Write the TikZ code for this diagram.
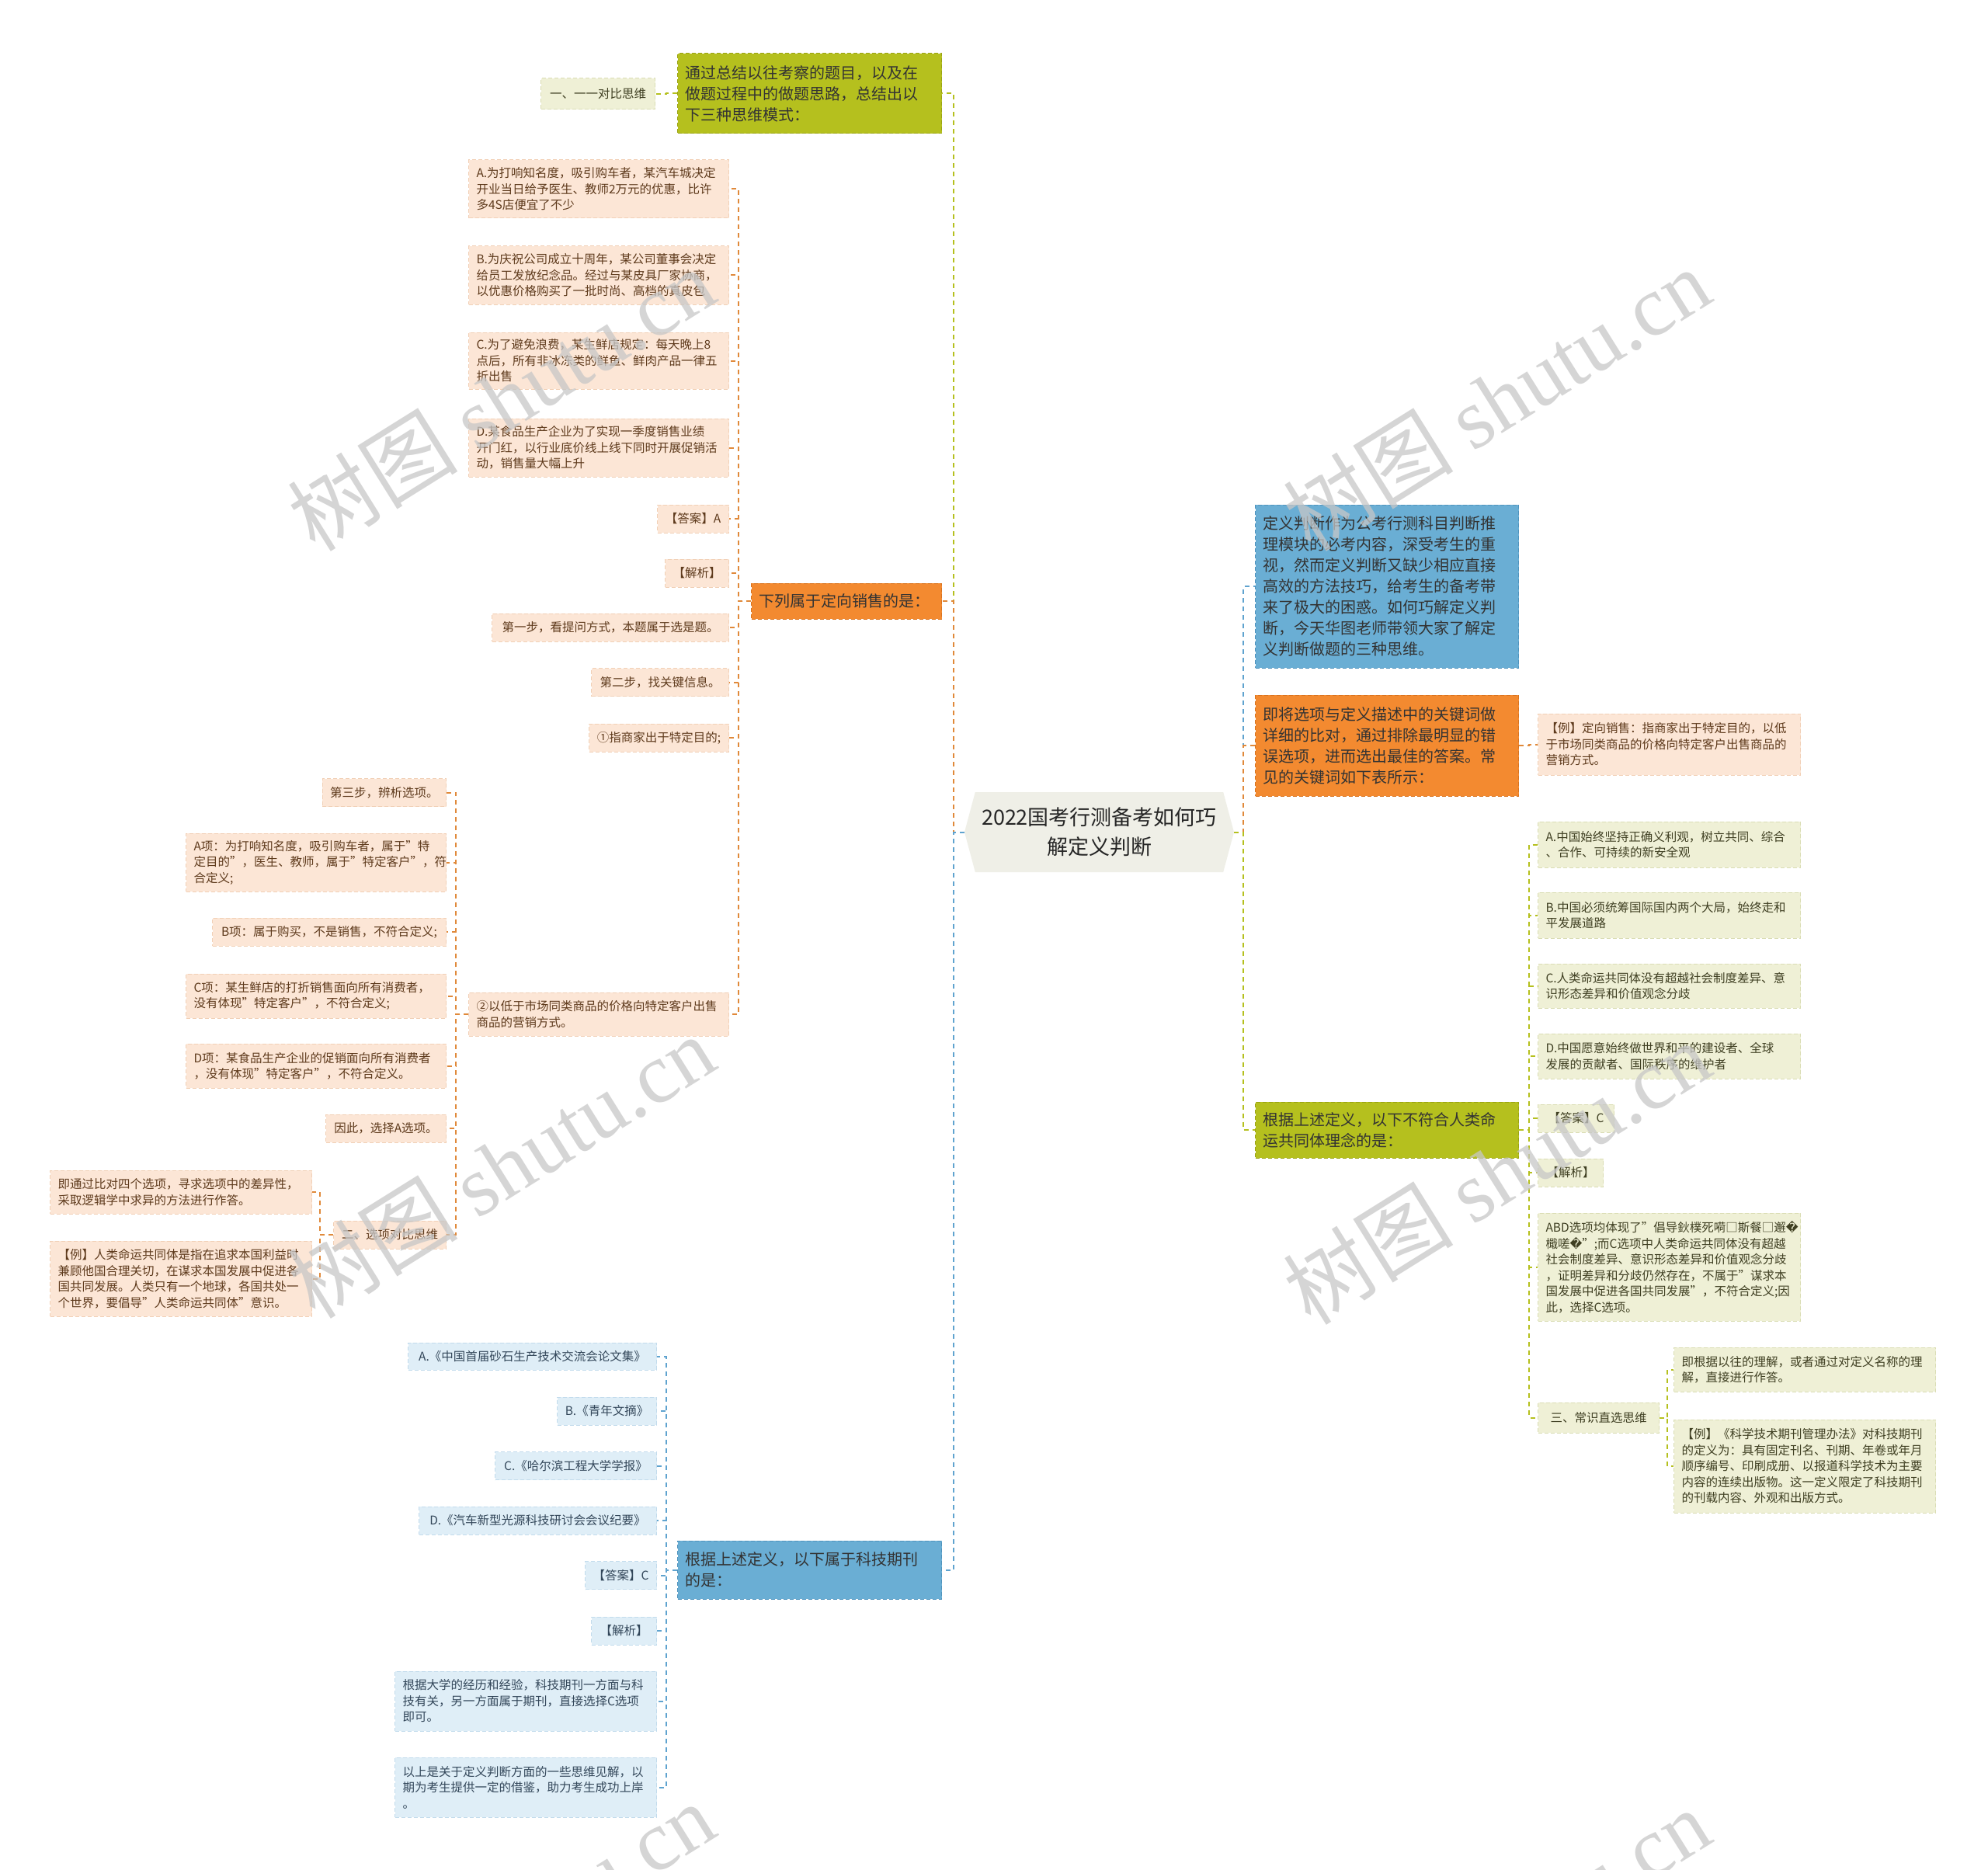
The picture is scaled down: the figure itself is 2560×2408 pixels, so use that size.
\documentclass[tikz,border=0pt]{standalone}
\usepackage{fontspec}
\setmainfont{Noto Sans CJK SC}
\newfontfamily\wmserif{Liberation Serif}
\newfontfamily\dvsans{DejaVu Sans}
\usetikzlibrary{shapes.symbols}
\definecolor{mG}{HTML}{B5C01E}
\definecolor{mGb}{HTML}{9AA312}
\definecolor{mO}{HTML}{F38A30}
\definecolor{mOb}{HTML}{D8731F}
\definecolor{mB}{HTML}{6AAED4}
\definecolor{mBb}{HTML}{4F93BD}
\definecolor{ctr}{HTML}{EFEFE7}
\definecolor{lO}{HTML}{FCE6D6}
\definecolor{lOb}{HTML}{F1D0B6}
\definecolor{lOt}{HTML}{5E3A1C}
\definecolor{lG}{HTML}{EFF0D6}
\definecolor{lGb}{HTML}{DADDB4}
\definecolor{lGt}{HTML}{3F3F22}
\definecolor{lB}{HTML}{DFEEF7}
\definecolor{lBb}{HTML}{C2DBEC}
\definecolor{lBt}{HTML}{33475A}
\definecolor{cG}{HTML}{B5C01E}
\definecolor{cO}{HTML}{E0893A}
\definecolor{cB}{HTML}{5FA3CF}
\newcommand{\repch}{{\dvsans\char"FFFD}}
\tikzset{
  box/.style={draw, dash pattern=on 5pt off 3pt, line width=1pt, inner xsep=10pt, inner ysep=3pt, align=left},
  smalltxt/.style={font=\fontsize{15.5}{20.5}\selectfont},
  bigtxt/.style={font=\fontsize{20}{27}\selectfont},
  leafO/.style={box, smalltxt, fill=lO, draw=lOb, text=lOt},
  leafG/.style={box, smalltxt, fill=lG, draw=lGb, text=lGt},
  leafB/.style={box, smalltxt, fill=lB, draw=lBb, text=lBt},
  mainG/.style={box, bigtxt, fill=mG, draw=mGb, text=black!80},
  mainO/.style={box, bigtxt, fill=mO, draw=mOb, text=black!80},
  mainB/.style={box, bigtxt, fill=mB, draw=mBb, text=black!80},
  conG/.style={draw=cG, line width=2pt, dash pattern=on 6pt off 5pt},
  conO/.style={draw=cO, line width=2pt, dash pattern=on 6pt off 5pt},
  conB/.style={draw=cB, line width=2pt, dash pattern=on 6pt off 5pt},
  wm/.style={text=black!22, text opacity=0.75, font=\fontsize{110}{110}\selectfont, rotate=32, inner sep=0pt}
}
\begin{document}
\begin{tikzpicture}[x=1pt, y=-1pt]
\useasboundingbox[fill=white] (0,0) rectangle (2560,2408);

% central
\node[signal, signal to=west and east, signal pointer angle=150, fill=ctr, minimum width=347pt, minimum height=103pt, align=center, font=\fontsize{27}{38}\selectfont, text=black!85, inner sep=0pt] (c) at (1415.5,1071.5) {2022国考行测备考如何巧\\解定义判断};

% left main
\node[mainG, anchor=east, text width=320pt, minimum height=103pt] (g0) at (1213,120.5) {通过总结以往考察的题目，以及在\\做题过程中的做题思路，总结出以\\下三种思维模式：};
\node[mainO, anchor=east, text width=225pt, minimum height=46pt] (o0) at (1213,774) {下列属于定向销售的是：};
\node[mainB, anchor=east, text width=320pt, minimum height=75pt] (b0) at (1213,2021.5) {根据上述定义，以下属于科技期刊\\的是：};

% right main
\node[mainB, anchor=west, text width=319pt, minimum height=210pt] (b1) at (1616,755) {定义判断作为公考行测科目判断推\\理模块的必考内容，深受考生的重\\视，然而定义判断又缺少相应直接\\高效的方法技巧，给考生的备考带\\来了极大的困惑。如何巧解定义判\\断，今天华图老师带领大家了解定\\义判断做题的三种思维。};
\node[mainO, anchor=west, text width=319pt, minimum height=130pt] (o1) at (1616,960) {即将选项与定义描述中的关键词做\\详细的比对，通过排除最明显的错\\误选项，进而选出最佳的答案。常\\见的关键词如下表所示：};
\node[mainG, anchor=west, text width=319pt, minimum height=72pt] (g1) at (1616,1455) {根据上述定义，以下不符合人类命\\运共同体理念的是：};

% green top-left child
\node[leafG, anchor=east, minimum width=147pt, minimum height=40pt] (gC) at (844,121) {一、一一对比思维};

% orange left leaves
\node[leafO, anchor=east, text width=315pt, minimum height=75pt] (oA) at (939,243.5) {A.为打响知名度，吸引购车者，某汽车城决定\\开业当日给予医生、教师2万元的优惠，比许\\多4S店便宜了不少};
\node[leafO, anchor=east, text width=315pt, minimum height=75pt] (oB) at (939,354.5) {B.为庆祝公司成立十周年，某公司董事会决定\\给员工发放纪念品。经过与某皮具厂家协商，\\以优惠价格购买了一批时尚、高档的真皮包};
\node[leafO, anchor=east, text width=315pt, minimum height=73pt] (oC) at (939,464.5) {C.为了避免浪费，某生鲜店规定：每天晚上8\\点后，所有非冰冻类的鲜鱼、鲜肉产品一律五\\折出售};
\node[leafO, anchor=east, text width=315pt, minimum height=75pt] (oD) at (939,576.5) {D.某食品生产企业为了实现一季度销售业绩\\开门红，以行业底价线上线下同时开展促销活\\动，销售量大幅上升};
\node[leafO, anchor=east, minimum width=92pt, minimum height=36pt] (oAns) at (939,668) {【答案】A};
\node[leafO, anchor=east, minimum width=80pt, minimum height=36pt] (oJx) at (939,738) {【解析】};
\node[leafO, anchor=east, minimum width=305pt, minimum height=36pt] (oS1) at (939,808) {第一步，看提问方式，本题属于选是题。};
\node[leafO, anchor=east, minimum width=177pt, minimum height=36pt] (oS2) at (939,878.5) {第二步，找关键信息。};
\node[leafO, anchor=east, minimum width=180pt, minimum height=36pt] (oP1) at (939,950) {①指商家出于特定目的;};
\node[leafO, anchor=east, text width=315pt, minimum height=56pt] (oP2) at (939,1306) {②以低于市场同类商品的价格向特定客户出售\\商品的营销方式。};

% children of oP2
\node[leafO, anchor=east, minimum width=159pt, minimum height=36pt] (pS3) at (575,1020.5) {第三步，辨析选项。};
\node[leafO, anchor=east, text width=315pt, minimum height=75pt] (pA) at (575,1110.5) {A项：为打响知名度，吸引购车者，属于"特\\定目的"，医生、教师，属于"特定客户"，符\\合定义;};
\node[leafO, anchor=east, minimum width=301pt, minimum height=36pt] (pB) at (575,1200) {B项：属于购买，不是销售，不符合定义;};
\node[leafO, anchor=east, text width=315pt, minimum height=57pt] (pC) at (575,1282.5) {C项：某生鲜店的打折销售面向所有消费者，\\没有体现"特定客户"，不符合定义;};
\node[leafO, anchor=east, text width=315pt, minimum height=57pt] (pD) at (575,1372.5) {D项：某食品生产企业的促销面向所有消费者\\，没有体现"特定客户"，不符合定义。};
\node[leafO, anchor=east, minimum width=155pt, minimum height=36pt] (pSo) at (575,1453) {因此，选择A选项。};
\node[leafO, anchor=east, minimum width=145pt, minimum height=36pt] (pT2) at (575,1590) {二、选项对比思维};

% children of pT2
\node[leafO, anchor=east, text width=317pt, minimum height=56pt] (qA) at (402,1535) {即通过比对四个选项，寻求选项中的差异性，\\采取逻辑学中求异的方法进行作答。};
\node[leafO, anchor=east, text width=317pt, minimum height=97pt] (qB) at (402,1646.5) {【例】人类命运共同体是指在追求本国利益时\\兼顾他国合理关切，在谋求本国发展中促进各\\国共同发展。人类只有一个地球，各国共处一\\个世界，要倡导"人类命运共同体"意识。};

% blue left leaves
\node[leafB, anchor=east, minimum width=320pt, minimum height=35pt] (bA) at (846,1746.5) {A.《中国首届砂石生产技术交流会论文集》};
\node[leafB, anchor=east, minimum width=128pt, minimum height=36pt] (bB) at (846,1817) {B.《青年文摘》};
\node[leafB, anchor=east, minimum width=208pt, minimum height=36pt] (bC) at (846,1887.5) {C.《哈尔滨工程大学学报》};
\node[leafB, anchor=east, minimum width=306pt, minimum height=36pt] (bD) at (846,1958) {D.《汽车新型光源科技研讨会会议纪要》};
\node[leafB, anchor=east, minimum width=92pt, minimum height=36pt] (bAns) at (846,2028.5) {【答案】C};
\node[leafB, anchor=east, minimum width=84pt, minimum height=36pt] (bJx) at (846,2100) {【解析】};
\node[leafB, anchor=east, text width=317pt, minimum height=77pt] (bE1) at (846,2190.5) {根据大学的经历和经验，科技期刊一方面与科\\技有关，另一方面属于期刊，直接选择C选项\\即可。};
\node[leafB, anchor=east, text width=317pt, minimum height=77pt] (bE2) at (846,2301.5) {以上是关于定义判断方面的一些思维见解，以\\期为考生提供一定的借鉴，助力考生成功上岸\\。};

% right orange child
\node[leafO, anchor=west, text width=318pt, minimum height=79pt] (rO) at (1980,958.5) {【例】定向销售：指商家出于特定目的，以低\\于市场同类商品的价格向特定客户出售商品的\\营销方式。};

% right green children
\node[leafG, anchor=west, text width=318pt, minimum height=59pt] (rA) at (1980,1087.5) {A.中国始终坚持正确义利观，树立共同、综合\\、合作、可持续的新安全观};
\node[leafG, anchor=west, text width=318pt, minimum height=59pt] (rB) at (1980,1178.5) {B.中国必须统筹国际国内两个大局，始终走和\\平发展道路};
\node[leafG, anchor=west, text width=318pt, minimum height=57pt] (rC) at (1980,1269.5) {C.人类命运共同体没有超越社会制度差异、意\\识形态差异和价值观念分歧};
\node[leafG, anchor=west, text width=318pt, minimum height=58pt] (rD) at (1980,1360) {D.中国愿意始终做世界和平的建设者、全球\\发展的贡献者、国际秩序的维护者};
\node[leafG, anchor=west, minimum width=98pt, minimum height=36pt] (rAns) at (1980,1440) {【答案】C};
\node[leafG, anchor=west, minimum width=84pt, minimum height=36pt] (rJx) at (1980,1510) {【解析】};
\node[leafG, anchor=west, text width=318pt, minimum height=139pt] (rE) at (1980,1631.5) {ABD选项均体现了"倡导鈥樸死嗬□斯餐□邂\repch\\檝嗟\repch";而C选项中人类命运共同体没有超越\\社会制度差异、意识形态差异和价值观念分歧\\，证明差异和分歧仍然存在，不属于"谋求本\\国发展中促进各国共同发展"，不符合定义;因\\此，选择C选项。};
\node[leafG, anchor=west, minimum width=156pt, minimum height=39pt] (rT3) at (1980,1825.5) {三、常识直选思维};
\node[leafG, anchor=west, text width=317pt, minimum height=57pt] (sA) at (2155,1763.5) {即根据以往的理解，或者通过对定义名称的理\\解，直接进行作答。};
\node[leafG, anchor=west, text width=317pt, minimum height=120pt] (sB) at (2155,1888) {【例】《科学技术期刊管理办法》对科技期刊\\的定义为：具有固定刊名、刊期、年卷或年月\\顺序编号、印刷成册、以报道科学技术为主要\\内容的连续出版物。这一定义限定了科技期刊\\的刊载内容、外观和出版方式。};

% connectors from center
\draw[conG] (c.west) -- ++(-14,0) |- (g0.east);
\draw[conO] (c.west) -- ++(-14,0) |- (o0.east);
\draw[conB] (c.west) -- ++(-14,0) |- (b0.east);
\draw[conB] (c.east) -- ++(12,0) |- (b1.west);
\draw[conO] (c.east) -- ++(12,0) |- (o1.west);
\draw[conG] (c.east) -- ++(12,0) |- (g1.west);

% branch connectors
\draw[conG] (g0.west) -- ++(-14,0) |- (gC.east);
\foreach \n in {oA,oB,oC,oD,oAns,oJx,oS1,oS2,oP1,oP2}
  \draw[conO] (o0.west) -- ++(-16,0) |- (\n.east);
\foreach \n in {pS3,pA,pB,pC,pD,pSo,pT2}
  \draw[conO] (oP2.west) -- ++(-16,0) |- (\n.east);
\foreach \n in {qA,qB}
  \draw[conO] (pT2.west) -- ++(-17,0) |- (\n.east);
\foreach \n in {bA,bB,bC,bD,bAns,bJx,bE1,bE2}
  \draw[conB] (b0.west) -- ++(-14,0) |- (\n.east);
\draw[conO] (o1.east) -- ++(13,0) |- (rO.west);
\foreach \n in {rA,rB,rC,rD,rAns,rJx,rE,rT3}
  \draw[conG] (g1.east) -- ++(13,0) |- (\n.west);
\foreach \n in {sA,sB}
  \draw[conG] (rT3.east) -- ++(10,0) |- (\n.west);

% watermarks
\begin{scope}
\clip (0,0) rectangle (2560,2408);
\node[wm] (wm1) at (645,514) {树图 {\wmserif shutu.cn}};
\node[wm] (wm2) at (1927,514) {树图 {\wmserif shutu.cn}};
\node[wm] (wm3) at (645,1502) {树图 {\wmserif shutu.cn}};
\node[wm] (wm4) at (1927,1510) {树图 {\wmserif shutu.cn}};
\node[wm] (wm5) at (645,2490) {树图 {\wmserif shutu.cn}};
\node[wm] (wm6) at (1927,2498) {树图 {\wmserif shutu.cn}};
\end{scope}
\end{tikzpicture}
\end{document}
